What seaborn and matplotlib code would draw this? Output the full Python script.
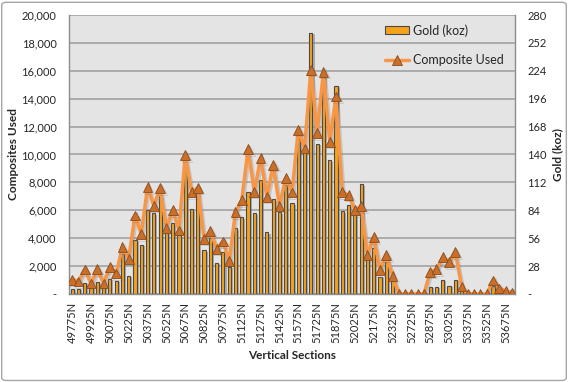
import numpy as np
import pandas as pd
import matplotlib
matplotlib.use("Agg")
import matplotlib.pyplot as plt
import matplotlib.patheffects as pe
from matplotlib.patches import Patch, FancyBboxPatch
from matplotlib.lines import Line2D
from matplotlib.ticker import FuncFormatter
import seaborn as sns

# Vertical sections (only every third one is labelled on the axis)
sections = [
    "49775N", "49825N", "49875N", "49925N", "49975N", "50025N", "50075N", "50125N",
    "50175N", "50225N", "50275N", "50325N", "50375N", "50425N", "50475N", "50525N",
    "50575N", "50625N", "50675N", "50725N", "50775N", "50825N", "50875N", "50925N",
    "50975N", "51025N", "51075N", "51125N", "51175N", "51225N", "51275N", "51325N",
    "51375N", "51425N", "51475N", "51525N", "51575N", "51625N", "51675N", "51725N",
    "51775N", "51825N", "51875N", "51925N", "51975N", "52025N", "52075N", "52125N",
    "52175N", "52225N", "52275N", "52325N", "52425N", "52575N", "52725N", "52775N",
    "52825N", "52875N", "52925N", "52975N", "53025N", "53075N", "53125N", "53375N",
    "53425N", "53475N", "53525N", "53575N", "53625N", "53675N", "53725N",
]

gold_koz = [
    5.5, 5.5, 11, 6, 12.5, 7, 15.5, 13.5, 40.5, 18,
    54, 49.5, 84, 81, 98, 62, 71, 59, 127, 85,
    101, 44, 56, 31, 42, 27.5, 66, 77, 102, 81,
    114, 62, 95, 82, 109, 91, 156, 144, 262, 151,
    222, 134, 209, 83, 89, 81, 110, 36.5, 46.5, 17.5,
    32, 14, 0, 0, 0, 0, 0, 7, 7, 14,
    8.5, 14.5, 5, 0, 0, 0, 0, 8, 4, 2, 1,
]

composites = [
    1020, 900, 1760, 750, 1770, 760, 1920, 1460, 3370, 2530,
    5630, 4300, 7650, 6330, 7590, 4740, 6020, 4550, 9950, 7300,
    7620, 3950, 4500, 3240, 3760, 2340, 5870, 6740, 10380, 7320,
    9740, 6960, 9260, 6310, 8300, 7280, 11760, 10440, 16060, 11520,
    15940, 10920, 14150, 7290, 7100, 6020, 6300, 2790, 4080, 1710,
    2790, 1300, 0, 0, 0, 0, 0, 1580, 1770, 2640,
    2290, 3010, 530, 0, 0, 0, 0, 960, 400, 240, 110,
]

left_ticks = [0, 2000, 4000, 6000, 8000, 10000, 12000, 14000, 16000, 18000, 20000]
right_ticks = [0, 28, 56, 84, 112, 140, 168, 196, 224, 252, 280]

df = pd.DataFrame({"section": sections, "gold": gold_koz, "composites": composites})
df["pos"] = np.arange(len(df))

sns.set_style("white")
plt.rcParams["font.family"] = ["Lato", "DejaVu Sans"]

bar_orange = "#F7A21B"
line_orange = "#F79646"
text_col = "#262626"

fig = plt.figure(figsize=(5.68, 3.82), dpi=100)
ax_bar = fig.add_axes([0.1215, 0.2304, 0.7852, 0.7303])
ax_bar.set_facecolor("#E4E4E4")

sns.barplot(data=df, x="section", y="gold", ax=ax_bar, color=bar_orange,
            saturation=1, width=0.5, edgecolor="#4A4A4A", linewidth=0.8)
for p in ax_bar.patches:
    p.set_path_effects([pe.SimplePatchShadow(offset=(1.5, -1.0), shadow_rgbFace="#7F7F7F", alpha=0.55),
                        pe.Normal()])

ax_line = ax_bar.twinx()
sns.lineplot(data=df, x="pos", y="composites", ax=ax_line, color=line_orange, lw=2.5,
             marker="^", markersize=7, markerfacecolor="#C96F2A",
             markeredgecolor="#8A4A1A", markeredgewidth=0.6)
for ln in ax_line.lines:
    ln.set_path_effects([pe.SimpleLineShadow(offset=(1.2, -1.2), shadow_color="#808080", alpha=0.3),
                         pe.Normal()])

n = len(df)
ax_bar.set_xlim(-0.5, n - 0.5)
ax_bar.set_ylim(0, 280)
ax_line.set_ylim(0, 20000)

# right axis: gold
ax_bar.yaxis.tick_right()
ax_bar.yaxis.set_label_position("right")
ax_bar.set_yticks(right_ticks)
ax_bar.yaxis.set_major_formatter(FuncFormatter(lambda v, _: "-" if v == 0 else f"{int(v)}"))
ax_bar.set_ylabel("Gold (koz)", fontsize=8.5, fontweight="bold", color=text_col)
ax_bar.yaxis.set_label_coords(1.083, 0.5)

# left axis: composites
ax_line.yaxis.tick_left()
ax_line.yaxis.set_label_position("left")
ax_line.set_yticks(left_ticks)
ax_line.yaxis.set_major_formatter(FuncFormatter(lambda v, _: "-" if v == 0 else f"{int(v):,}"))
ax_line.set_ylabel("Composites Used", fontsize=8.5, fontweight="bold", color=text_col)
ax_line.yaxis.set_label_coords(-0.113, 0.5)

for a in (ax_bar, ax_line):
    a.tick_params(axis="y", length=0, pad=9, labelsize=8, labelcolor=text_col)

# x axis
ax_bar.set_xticks(range(0, n, 3))
ax_bar.set_xticklabels(sections[::3], rotation=90)
ax_bar.set_xticks(np.arange(-0.5, n, 1), minor=True)
ax_bar.tick_params(axis="x", which="major", length=0, pad=6, labelsize=8, labelcolor=text_col)
ax_bar.tick_params(axis="x", which="minor", length=3, width=0.8, color="#8C8C8C", direction="out")
ax_bar.set_xlabel("Vertical Sections", fontsize=8.5, fontweight="bold", color=text_col, labelpad=5)

ax_bar.yaxis.grid(True, color="#A3A3A3", lw=1.2)
ax_bar.set_axisbelow(True)

for s in ["left", "bottom", "right"]:
    ax_bar.spines[s].set_color("#8C8C8C")
    ax_bar.spines[s].set_linewidth(1)
ax_bar.spines["top"].set_visible(False)
for s in ax_line.spines.values():
    s.set_visible(False)

handles = [
    Patch(facecolor=bar_orange, edgecolor="#4A4A4A", linewidth=0.8),
    Line2D([0], [0], color=line_orange, lw=2.5, marker="^", markersize=7,
           markerfacecolor="#C96F2A", markeredgecolor="#8A4A1A", markeredgewidth=0.6),
]
fig.legend(handles, ["Gold (koz)", "Composite Used"], loc="upper left",
           bbox_to_anchor=(0.678, 0.937), frameon=False, fontsize=9,
           handlelength=1.9, handleheight=0.55, handletextpad=0.3, labelspacing=1.4,
           borderpad=0, borderaxespad=0, labelcolor=text_col)

fig.add_artist(FancyBboxPatch((0.003, 0.004), 0.994, 0.99, boxstyle="round,pad=0,rounding_size=0.008",
                              transform=fig.transFigure, fill=False, edgecolor="#A6A6A6", lw=1))

fig.savefig("out.png", dpi=100)
